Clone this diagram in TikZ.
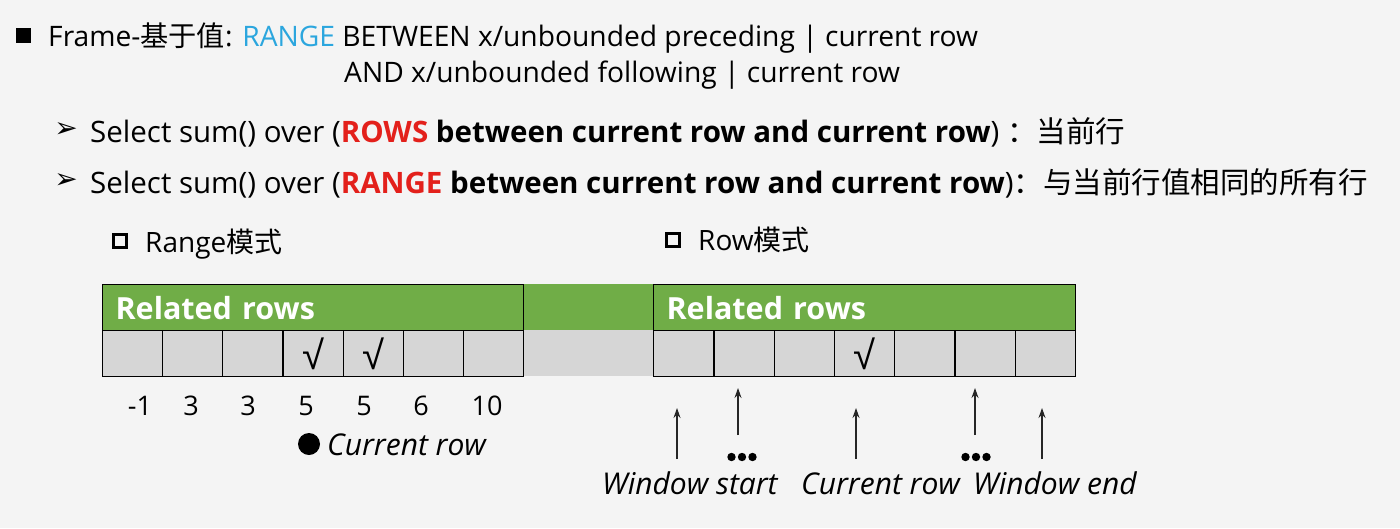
\documentclass[tikz,border=0pt]{standalone}
\usepackage{fontspec}
\setmainfont{Open Sans}
\newfontfamily\cjk{Noto Sans CJK SC}
\newfontfamily\symfont{DejaVu Sans}
\newfontfamily\tickfont{Liberation Sans}
\usetikzlibrary{arrows.meta,positioning,calc}

\definecolor{bggray}{HTML}{F4F4F4}
\definecolor{relgreen}{HTML}{70AD47}
\definecolor{cellgray}{HTML}{D6D6D6}
\definecolor{rangeblue}{HTML}{2BA6DE}
\definecolor{keyred}{HTML}{E3201B}

\begin{document}
\begin{tikzpicture}[
    x=1pt, y=-1pt,
    >={Stealth[length=10pt,width=7pt]},
    basetext/.style={inner sep=0pt, anchor=base west, font=\fontsize{28.2}{34}\selectfont},
    selecttext/.style={basetext, font=\fontsize{29.5}{34}\selectfont},
    itext/.style={basetext, font=\fontsize{30}{34}\selectfont\itshape},
    numtext/.style={inner sep=0pt, anchor=base, font=\fontsize{27}{32}\selectfont},
    titletext/.style={basetext, font=\fontsize{28}{32}\selectfont},
    % table parts
    headbox/.style={draw, line width=1.2pt, fill=relgreen, minimum height=46pt,
        inner xsep=13pt, inner ysep=0pt, align=left, text=white,
        font=\fontsize{30.5}{34}\selectfont\bfseries},
    cellbox/.style={draw, line width=1.2pt, fill=cellgray, minimum width=60.2pt,
        minimum height=46pt, inner sep=0pt},
    tick/.style={font=\fontsize{40}{40}\selectfont\tickfont},
    squarebox/.style={draw, line width=3.4pt, minimum size=13.5pt, inner sep=0pt},
    pointer/.style={inner sep=0pt, font=\fontsize{28}{32}\selectfont\symfont},
    arrow/.style={->, line width=1.1pt, draw=black!85}
]
\useasboundingbox (0,0) rectangle (1400,528);
\fill[bggray] (0,0) rectangle (1400,528);

% Heading lines
\node[fill, minimum size=15pt, inner sep=0pt] (sq) at (23,35) {};
\node[basetext] (l1) at (48,46) {Frame-{\cjk 基于值}: \textcolor{rangeblue}{RANGE} BETWEEN x/unbounded preceding | current row};
\node[basetext] (l2) at (344,82.5) {AND x/unbounded following | current row};

\node[pointer] (b3) at (66,130) {➢};
\node[selecttext] (l3) at (90,142) {Select sum() over (\textbf{\textcolor{keyred}{ROWS} between current row and current row})\ {\cjk ：当前行}};
\node[pointer] (b4) at (66,181) {➢};
\node[selecttext] (l4) at (90,193) {Select sum() over (\textbf{\textcolor{keyred}{RANGE} between current row and current row}){\cjk ：与当前行值相同的所有行}};

% Mode titles
\node[squarebox] (rsq) at (120,241) {};
\node[titletext] (rtitle) at (145,252) {Range{\cjk 模式}};
\node[squarebox] (wsq) at (673,240) {};
\node[titletext] (wtitle) at (698,250) {Row{\cjk 模式}};

% Band between the two tables
\fill[relgreen] (523,284) rectangle (653,330);
\fill[cellgray] (523,330) rectangle (653,376);

% Range table
\node[headbox, text width=395pt, anchor=north west] (lhead) at (102,284) {Related rows};
\foreach \i in {1,...,7}
    \node[cellbox, anchor=north west] (L\i) at ({102+(\i-1)*60.14},330) {};
\node[tick] at (L4) {√};
\node[tick] at (L5) {√};

\foreach \v/\px in {-1/140, 3/191, 3/248, 5/306, 5/364, 6/421, 10/487}
    \node[numtext] at (\px,415) {\v};

\node[circle, fill, minimum size=22pt, inner sep=0pt] (dot) at (309,444) {};
\node[itext] (lcur) at (327,455) {Current row};

% Row table
\node[headbox, text width=396pt, anchor=north west] (rhead) at (653,284) {Related rows};
\foreach \i in {1,...,7}
    \node[cellbox, anchor=north west] (R\i) at ({653+(\i-1)*60.3},330) {};
\node[tick] at (R4) {√};

% Window pointers
\coordinate (a1) at (677,459);  \coordinate (a1t) at (677,408);
\coordinate (a2) at (738,435);  \coordinate (a2t) at (738,388);
\coordinate (a3) at (856,459);  \coordinate (a3t) at (856,408);
\coordinate (a4) at (975,435);  \coordinate (a4t) at (975,388);
\coordinate (a5) at (1042,459); \coordinate (a5t) at (1042,408);
\foreach \k in {1,...,5}
    \draw[arrow] (a\k) -- (a\k t);

% ellipsis dots
\foreach \cx in {742,976}
    \foreach \dx in {-10.5,0,10.5}
        \fill (\cx+\dx,457) circle (4.2);

\node[itext] (wstart) at (602,494) {Window start};
\node[itext] (rcur) at (801,494) {Current row};
\node[itext] (wend) at (973,494) {Window end};

\end{tikzpicture}
\end{document}
